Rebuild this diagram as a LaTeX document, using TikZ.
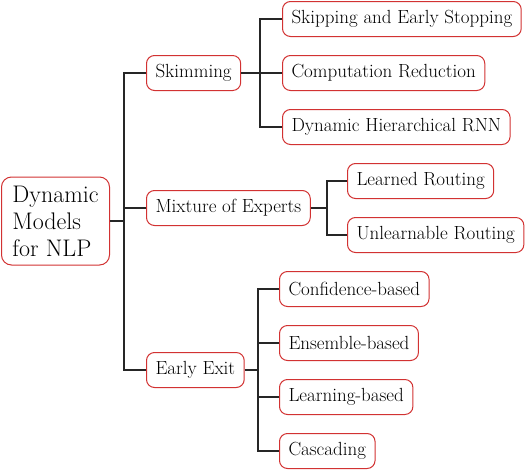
\documentclass[tikz,border=0pt]{standalone}
\usepackage{mathptmx}
\definecolor{boxred}{RGB}{210,50,50}
\begin{document}
\begin{tikzpicture}[x=1pt,y=-1pt,
  box/.style={draw=boxred, line width=1pt, rounded corners=8pt, fill=white,
    font=\rmfamily\fontsize{19}{22}\selectfont, minimum height=35pt, inner xsep=9pt, inner ysep=0pt, anchor=west},
  rootbox/.style={draw=boxred, line width=1pt, rounded corners=10pt, fill=white,
    font=\rmfamily\fontsize{24}{27}\selectfont, align=left, minimum width=108pt, minimum height=88pt, inner xsep=8pt, anchor=west},
  conn/.style={line width=1.2pt, black!85}]
\useasboundingbox (0,0) rectangle (528,472);

\node[rootbox] (root) at (1,221) {Dynamic\\Models\\for NLP};

\node[box] (skim) at (146,73) {Skimming};
\node[box] (moe) at (146,208) {Mixture of Experts};
\node[box] (ee) at (146,370) {Early Exit};

\node[box] (s1) at (282,19) {Skipping and Early Stopping};
\node[box] (s2) at (282,73) {Computation Reduction};
\node[box] (s3) at (282,127) {Dynamic Hierarchical RNN};

\node[box] (m1) at (347,181) {Learned Routing};
\node[box] (m2) at (347,235) {Unlearnable Routing};

\node[box] (e1) at (279,289) {Confidence-based};
\node[box] (e2) at (279,343) {Ensemble-based};
\node[box] (e3) at (279,397) {Learning-based};
\node[box] (e4) at (279,451) {Cascading};

\coordinate (t) at (124,221);
\coordinate (sj) at (260,73);
\coordinate (mj) at (327,208);
\coordinate (ej) at (258,370);

\draw[conn] (root.east) -- (t);
\draw[conn] (skim.west) -| (t) |- (ee.west);
\draw[conn] (moe.west) -- (moe.west -| t);

\draw[conn] (skim.east) -- (s2.west);
\draw[conn] (s1.west) -| (sj) |- (s3.west);

\draw[conn] (moe.east) -- (mj);
\draw[conn] (m1.west) -| (mj) |- (m2.west);

\draw[conn] (ee.east) -- (ej);
\draw[conn] (e1.west) -| (ej) |- (e4.west);
\draw[conn] (e2.west) -- (e2.west -| ej);
\draw[conn] (e3.west) -- (e3.west -| ej);
\end{tikzpicture}
\end{document}
